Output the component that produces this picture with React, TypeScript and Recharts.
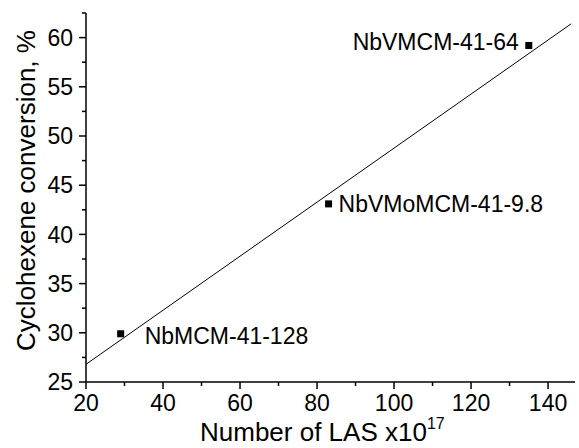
import React from "react";
import {
  ComposedChart,
  Scatter,
  XAxis,
  YAxis,
  ReferenceLine,
  Label
} from "recharts";

// conversion vs. number of Lewis acid sites (x10^17)
const lasValues = [29, 83, 135];
const conversionValues = [29.9, 43.1, 59.2];
const sampleNames = ["NbMCM-41-128", "NbVMoMCM-41-9.8", "NbVMCM-41-64"];

// linear fit end points
const fitX = [20, 146];
const fitY = [26.8, 61.4];

const xMajorTicks = [20, 40, 60, 80, 100, 120, 140];
const xMinorTicks = [30, 50, 70, 90, 110, 130];
const yMajorTicks = [25, 30, 35, 40, 45, 50, 55, 60];
const yMinorTicks = [27.5, 32.5, 37.5, 42.5, 47.5, 52.5, 57.5, 62.5];

const FONT = "'Liberation Sans', Arial, sans-serif";

const points = lasValues.map((x, i) => ({
  x,
  y: conversionValues[i],
  name: sampleNames[i]
}));

// where each sample label sits relative to its marker
const labelPlacement: Record<string, { dx: number; dy: number; anchor: "start" | "end" }> = {
  "NbMCM-41-128": { dx: 24, dy: 2, anchor: "start" },
  "NbVMoMCM-41-9.8": { dx: 10, dy: 0, anchor: "start" },
  "NbVMCM-41-64": { dx: -10, dy: -3, anchor: "end" }
};

function SquareWithLabel(props: any) {
  const { cx, cy, payload } = props;
  const p = labelPlacement[payload.name];
  return (
    <g>
      <rect x={cx - 3.5} y={cy - 3.5} width={7} height={7} fill="#000" />
      <text
        x={cx + p.dx}
        y={cy + p.dy}
        textAnchor={p.anchor}
        dominantBaseline="central"
        fontSize={23}
        fontFamily={FONT}
        fill="#000"
      >
        {payload.name}
      </text>
    </g>
  );
}

function XTick(props: any) {
  const { x, y, payload } = props;
  const major = xMajorTicks.includes(payload.value);
  return (
    <g>
      <line x1={x} y1={y} x2={x} y2={y + (major ? 7 : 4)} stroke="#000" strokeWidth={1.5} />
      {major && (
        <text x={x} y={y + 12} dy="0.72em" textAnchor="middle" fontSize={23} fontFamily={FONT} fill="#000">
          {payload.value}
        </text>
      )}
    </g>
  );
}

function YTick(props: any) {
  const { x, y, payload } = props;
  const major = yMajorTicks.includes(payload.value);
  return (
    <g>
      <line x1={x} y1={y} x2={x - (major ? 7 : 4)} y2={y} stroke="#000" strokeWidth={1.5} />
      {major && (
        <text x={x - 13} y={y} dy="0.36em" textAnchor="end" fontSize={23} fontFamily={FONT} fill="#000">
          {payload.value}
        </text>
      )}
    </g>
  );
}

export default function App() {
  return (
    <div style={{ position: "absolute", left: 0, top: 0, width: 579, height: 448, background: "#fff" }}>
      <ComposedChart
        width={579}
        height={448}
        data={points}
        margin={{ top: 13, right: 4, bottom: 0, left: 0 }}
      >
        <XAxis
          type="number"
          dataKey="x"
          domain={[20, 147]}
          ticks={[...xMajorTicks, ...xMinorTicks].sort((a, b) => a - b)}
          interval={0}
          allowDataOverflow
          height={66}
          tickSize={0}
          tickMargin={0}
          tickLine={false}
          axisLine={{ stroke: "#000", strokeWidth: 1.5 }}
          tick={<XTick />}
        >
          <Label
            content={({ viewBox }: any) => (
              <text
                x={viewBox.x + 114}
                y={viewBox.y + 59}
                fontSize={26}
                fontFamily={FONT}
                fill="#000"
              >
                Number of LAS x10
                <tspan fontSize={16} dy={-12}>17</tspan>
              </text>
            )}
          />
        </XAxis>
        <YAxis
          type="number"
          dataKey="y"
          domain={[25, 62.5]}
          ticks={[...yMajorTicks, ...yMinorTicks].sort((a, b) => a - b)}
          interval={0}
          allowDataOverflow
          width={86}
          tickSize={0}
          tickMargin={0}
          tickLine={false}
          axisLine={{ stroke: "#000", strokeWidth: 1.5 }}
          tick={<YTick />}
        >
          <Label
            content={({ viewBox }: any) => {
              const cx = viewBox.x + 26;
              const cy = viewBox.y + viewBox.height / 2 - 7;
              return (
                <text
                  x={cx}
                  y={cy}
                  transform={`rotate(-90, ${cx}, ${cy})`}
                  textAnchor="middle"
                  dominantBaseline="central"
                  fontSize={26}
                  fontFamily={FONT}
                  fill="#000"
                >
                  Cyclohexene conversion, %
                </text>
              );
            }}
          />
        </YAxis>
        <ReferenceLine
          segment={[
            { x: fitX[0], y: fitY[0] },
            { x: fitX[1], y: fitY[1] }
          ]}
          stroke="#000"
          strokeWidth={1}
          ifOverflow="visible"
        />
        <Scatter dataKey="y" fill="#000" shape={<SquareWithLabel />} isAnimationActive={false} />
      </ComposedChart>
    </div>
  );
}
